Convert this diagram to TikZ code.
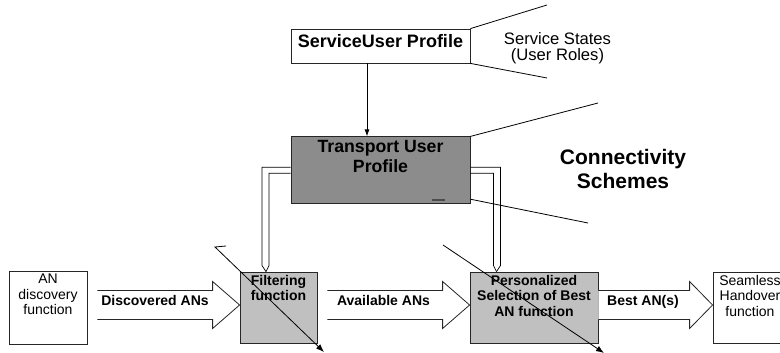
\documentclass[tikz,border=0pt]{standalone}
\usepackage{fontspec}
\setmainfont{Liberation Sans}
\usetikzlibrary{arrows.meta,positioning,calc}

\definecolor{tupgray}{RGB}{140,140,140}
\definecolor{fungray}{RGB}{192,192,192}

\begin{document}
\begin{tikzpicture}[x=1pt, y=-1pt, line width=0.8pt,
  box/.style={draw=black!85, rectangle, inner sep=0pt},
  boxtxt/.style={align=center, inner sep=0pt, font=\fontsize{14}{15.5}\selectfont},
  boxbold/.style={boxtxt, font=\bfseries\fontsize{14}{15.5}\selectfont},
  arrtxt/.style={anchor=base, inner sep=0pt, font=\bfseries\fontsize{14}{16}\selectfont},
  bigarrow/.style={draw=black!85, fill=white, line join=miter},
  dblline/.style={line width=0.7pt, line join=miter},
  diag/.style={-{Latex[length=8pt,width=6pt]}}]
  \useasboundingbox (0,0) rectangle (780,353);
  \clip (0,0) rectangle (780,353);

  % profiles
  \node[box, minimum width=179pt, minimum height=34pt] (sup) at (380.5,46) {};
  \node[box, fill=tupgray, minimum width=179pt, minimum height=67pt, below=73pt of sup] (tup) {};
  \node[anchor=base, inner sep=0pt, font=\bfseries\fontsize{18}{20}\selectfont] (suptxt) at (380.5,47.3) {ServiceUser Profile};
  \node[boxtxt, font=\bfseries\fontsize{17.7}{20}\selectfont, below=4pt of tup.north] (tuptxt) {Transport User\\Profile};
  \draw[black!70, line width=1.5pt] ($(tup.south east)+(-38,-4)$) -- ($(tup.south east)+(-25,-4)$);

  % function chain
  \node[box, minimum width=78pt, minimum height=73pt] (disc) at (48,307.5) {};
  \node[box, fill=fungray, minimum width=77pt, minimum height=71pt] (filt) at (278.5,307.5) {};
  \node[box, fill=fungray, minimum width=128pt, minimum height=71pt] (pers) at (534,307.5) {};
  \node[box, minimum width=78pt, minimum height=71pt] (seam) at (752,307.5) {};
  \node[boxtxt, below=3pt of disc.north] (disctxt) {AN\\discovery\\function};
  \node[boxbold, below=3pt of filt.north] (filttxt) {Filtering\\function};
  \node[boxbold, below=3pt of pers.north] (perstxt) {Personalized\\Selection of Best\\AN function};
  \node[boxtxt, below=3pt of seam.north, xshift=-2pt] (seamtxt) {Seamless\\Handover\\function};

  % callouts
  \coordinate (st1) at (547,5);
  \coordinate (st2) at (547,78);
  \coordinate (cs1) at (598,103);
  \coordinate (cs2) at (588,223);
  \draw (sup.north east) -- (st1);
  \draw (sup.south east) -- (st2);
  \draw (tup.north east) -- (cs1);
  \draw ($(tup.south east)+(0,-5)$) -- (cs2);
  \node[anchor=north, align=center, inner sep=0pt, font=\fontsize{16.6}{16.5}\selectfont] (states) at (557.5,32) {Service States\\(User Roles)};
  \node[anchor=north, align=center, inner sep=0pt, font=\bfseries\fontsize{21}{24}\selectfont] (schemes) at (623,149) {Connectivity\\Schemes};

  % flows
  \draw[-{Latex[length=7pt,width=5pt]}] ($(sup.south)+(-13.5,0)$) -- ($(tup.north)+(-13.5,0)$);
  \coordinate (ltip) at ($(filt.north)+(-12.5,0)$);
  \coordinate (rtip) at ($(pers.north)+(-37.5,0)$);
  \draw[dblline] ($(tup.west)+(0,-3)$) -| ($(ltip)+(-4,-6)$) -- (ltip);
  \draw[dblline] ($(tup.west)+(0,3)$) -| ($(ltip)+(3,-6)$) -- (ltip);
  \draw[dblline] ($(tup.east)+(0,-3)$) -| ($(rtip)+(4,-6)$) -- (rtip);
  \draw[dblline] ($(tup.east)+(0,3)$) -| ($(rtip)+(-3,-6)$) -- (rtip);

  \draw[bigarrow] ($(disc.east)+(10,-17)$) -- ($(filt.west)+(-27,-17)$) -- ($(filt.west)+(-27,-26)$)
    -- ($(filt.west)+(0,-2.5)$) -- ($(filt.west)+(-27,21)$) -- ($(filt.west)+(-27,12)$) -- ($(disc.east)+(10,12)$);
  \draw[bigarrow] ($(filt.east)+(10,-17)$) -- ($(pers.west)+(-27,-17)$) -- ($(pers.west)+(-27,-26)$)
    -- ($(pers.west)+(0,-2.5)$) -- ($(pers.west)+(-27,21)$) -- ($(pers.west)+(-27,12)$) -- ($(filt.east)+(10,12)$);
  \draw[bigarrow] ($(pers.east)+(0,-17)$) -- ($(seam.west)+(-23,-17)$) -- ($(seam.west)+(-23,-26)$)
    -- ($(seam.west)+(0,-2.5)$) -- ($(seam.west)+(-23,21)$) -- ($(seam.west)+(-23,12)$) -- ($(pers.east)+(0,12)$);
  \node[arrtxt] (dlab) at (155,305) {Discovered ANs};
  \node[arrtxt] (alab) at (383.5,305) {Available ANs};
  \node[arrtxt] (blab) at (643,305) {Best AN(s)};

  % crossing lines
  \coordinate (ftick) at (226,246);
  \coordinate (fbeg) at (215,247);
  \coordinate (fend) at (324,352);
  \coordinate (pbeg) at (443,245);
  \coordinate (pend) at (604,353);
  \draw[diag] (ftick) -- (fbeg) -- (fend);
  \draw[diag] (pbeg) -- (pend);
\end{tikzpicture}
\end{document}
